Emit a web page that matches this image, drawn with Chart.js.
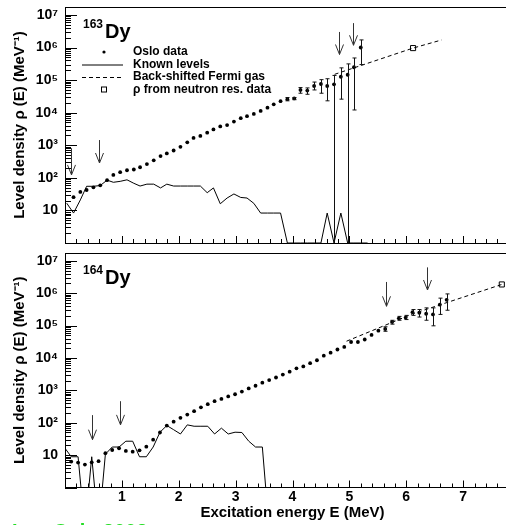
<!DOCTYPE html>
<html>
<head>
<meta charset="utf-8">
<script src="https://cdn.jsdelivr.net/npm/chart.js@4.4.1/dist/chart.umd.min.js"></script>
<style>
  html, body { margin: 0; padding: 0; background: #fff; overflow: hidden; width: 506px; height: 525px; }
  canvas { position: absolute; left: 0; }
  #dy163 { top: 0; }
  #dy164 { top: 248px; }
  .stamp { position: absolute; left: 12px; top: 520px; font: bold 20px "Liberation Sans", Arial, sans-serif; color: #22dd22; white-space: pre; }
</style>
</head>
<body>
<canvas id="dy163" width="530" height="248"></canvas>
<canvas id="dy164" width="530" height="277"></canvas>
<div class="stamp">Lu   Oslo 2003</div>
<script>
// --- 163Dy ---
const dy163Energy = [0.15, 0.27, 0.38, 0.50, 0.62, 0.74, 0.85, 0.97, 1.09, 1.21, 1.32, 1.44, 1.56, 1.68, 1.79,
  1.91, 2.03, 2.15, 2.26, 2.38, 2.50, 2.61, 2.73, 2.85, 2.97, 3.09, 3.20, 3.32, 3.44, 3.56, 3.67, 3.79, 3.91,
  4.03, 4.14, 4.26, 4.38, 4.50, 4.61, 4.73, 4.85, 4.97, 5.08, 5.20];
const dy163Oslo = [25.5, 36.9, 42.4, 51, 59, 85, 123, 149, 171, 180, 211, 265, 344, 464, 560,
  690, 895, 1230, 1680, 1930, 2430, 3060, 3770, 4150, 5340, 6770, 7780, 9140, 11300, 14200, 18000, 22600, 26000,
  27300, 49800, 47700, 65800, 75700, 65800, 74100, 126800, 145800, 247700, 1000000];
const dy163ErrEnergy = [3.91, 4.03, 4.14, 4.26, 4.38, 4.50, 4.61, 4.73, 4.85, 4.97, 5.08, 5.20];
const dy163ErrLow = [23100, 25000, 39500, 36700, 49800, 39500, 23100, 0, 26000, 0, 12100, 299000];
const dy163ErrHigh = [29200, 29200, 58900, 57500, 87000, 103000, 110000, 139000, 237000, 314000, 477000, 1710000];
const dy163LevelEnergy = [0.03, 0.15, 0.27, 0.38, 0.50, 0.62, 0.74, 0.85, 0.97, 1.09, 1.21, 1.32, 1.44, 1.56,
  1.68, 1.79, 1.91, 2.03, 2.15, 2.26, 2.38, 2.50, 2.61, 2.73, 2.85, 2.97, 3.09, 3.20, 3.32, 3.44, 3.56, 3.67,
  3.79, 3.91, 4.03, 4.14, 4.26, 4.38, 4.50, 4.61, 4.73, 4.85, 4.97, 5.08, 5.20, 5.32];
const dy163Levels = [16.7, 8.3, 21, 55, 55, 58, 85, 73, 78, 87, 68, 56, 64, 64,
  49, 64, 56, 56, 56, 56, 56, 35, 49, 16, 24, 32, 25, 24, 16.5, 8.3, 8.3, 8.3,
  8.3, 0, 0, 0, 0, 0, 0, 8.3, 0, 8.3, 0, 0, 0, 0];
const dy163FermiEnergy = [4.74, 6.12, 6.62];
const dy163Fermi = [150000, 960000, 1700000];
const dy163NeutronEnergy = [6.12];
const dy163Neutron = [960000];
// arrows: energy, upper end, lower end (tip)
const dy163Arrows = [[0.11, 811, 123], [0.59, 1446, 285], [4.82, 3.0e6, 6.1e5], [5.06, 5.6e6, 1.17e6]];

// --- 164Dy ---
const dy164Energy = [0.11, 0.23, 0.35, 0.47, 0.59, 0.71, 0.83, 0.95, 1.07, 1.19, 1.31, 1.43, 1.55, 1.67,
  1.79, 1.91, 2.03, 2.15, 2.27, 2.39, 2.51, 2.63, 2.75, 2.87, 2.99, 3.11, 3.23, 3.35, 3.47, 3.59, 3.71, 3.83,
  3.95, 4.07, 4.19, 4.31, 4.43, 4.55, 4.67, 4.79, 4.91, 5.03, 5.15, 5.27, 5.39, 5.51, 5.63, 5.75, 5.87, 5.99,
  6.11, 6.23, 6.35, 6.47, 6.59, 6.71];
const dy164Oslo = [6.3, 5.9, 5.1, 6, 6.5, 11.5, 14.4, 16.3, 13.5, 12.8, 14.1, 18.2, 30, 50,
  82, 108, 142, 179, 227, 299, 376, 463, 543, 650, 760, 920, 1150, 1390, 1730, 2085, 2500, 3080,
  3790, 4800, 5510, 6920, 8530, 11800, 14550, 18300, 22000, 31200, 31200, 37300, 51700, 69700, 78500, 130000, 168000, 177000,
  260000, 250000, 233000, 222000, 444000, 628000];
const dy164ErrEnergy = [5.63, 5.75, 5.87, 5.99, 6.11, 6.23, 6.35, 6.47, 6.59, 6.71];
const dy164ErrLow = [66900, 111000, 146600, 154000, 207000, 184000, 146600, 98600, 222000, 299000];
const dy164ErrHigh = [92000, 146000, 193000, 207000, 314000, 314000, 353000, 353000, 706000, 953000];
const dy164LevelEnergy = [0.00, 0.11, 0.23, 0.35, 0.47, 0.59, 0.71, 0.83, 0.95, 1.07, 1.19, 1.31, 1.43, 1.55,
  1.67, 1.79, 1.91, 2.03, 2.15, 2.27, 2.39, 2.51, 2.63, 2.75, 2.87, 2.99, 3.11, 3.23, 3.35, 3.47, 3.59, 3.71];
const dy164Levels = [16.3, 8.9, 8.9, 0, 8.9, 0, 10.7, 17.8, 17.8, 26.9, 26.9, 8.9, 8.9, 17.8,
  51, 82, 61, 45, 86, 78, 78, 78, 45, 68, 45, 51, 50, 27, 17.8, 17.8, 0, 0];
const dy164FermiEnergy = [4.95, 6.12, 7.68];
const dy164Fermi = [33000, 233000, 1870000];
const dy164NeutronEnergy = [7.68];
const dy164Neutron = [1870000];
const dy164Arrows = [[0.47, 172, 30], [0.96, 463, 86], [5.65, 2.23e6, 3.95e5], [6.37, 6.3e6, 1.26e6]];

// axes
const yTickValues = [10, 100, 1e3, 1e4, 1e5, 1e6, 1e7];
const yTickLabels = ['10', '10\u00b2', '10\u00b3', '10\u2074', '10\u2075', '10\u2076', '10\u2077'];
const xTickValues = [1, 2, 3, 4, 5, 6, 7];
const xTickLabels = ['1', '2', '3', '4', '5', '6', '7'];

const FONT = '"Liberation Sans", Arial, Helvetica, sans-serif';
const Y_MIN = 1;
const Y_MAX = 1.75e7;

function points(xs, ys, zeroAt) {
  return xs.map((x, i) => ({ x, y: ys[i] > 0 ? ys[i] : zeroAt }));
}

function drawArrow(ctx, x, y0, y1) {
  ctx.beginPath();
  ctx.moveTo(x, y0);
  ctx.lineTo(x, y1);
  ctx.moveTo(x - 4, y1 - 10);
  ctx.lineTo(x, y1);
  ctx.lineTo(x + 4, y1 - 10);
  ctx.stroke();
}

function makeOverlay(err, arrows, isotope, withLegend) {
  return {
    id: 'overlay',
    afterDatasetsDraw(chart) {
      const { ctx, chartArea: a, scales: { x, y } } = chart;
      ctx.save();
      ctx.beginPath();
      ctx.rect(a.left, a.top, a.width, a.height);
      ctx.clip();
      ctx.strokeStyle = '#111';
      ctx.lineWidth = 1;
      ctx.beginPath();
      err.energy.forEach((e, i) => {
        const px = Math.round(x.getPixelForValue(e)) + 0.5;
        const lo = err.low[i] > 0 ? y.getPixelForValue(err.low[i]) : a.bottom;
        const hi = y.getPixelForValue(err.high[i]);
        ctx.moveTo(px, lo); ctx.lineTo(px, hi);
        ctx.moveTo(px - 2, hi); ctx.lineTo(px + 2, hi);
        if (err.low[i] > 0) { ctx.moveTo(px - 2, lo); ctx.lineTo(px + 2, lo); }
      });
      ctx.stroke();
      ctx.strokeStyle = '#333';
      arrows.forEach(([e, top, tip]) => {
        drawArrow(ctx, Math.round(x.getPixelForValue(e)) + 0.5, y.getPixelForValue(top), y.getPixelForValue(tip));
      });
      ctx.restore();
    },
    afterDraw(chart) {
      const { ctx, chartArea: a, scales: { x, y } } = chart;
      ctx.save();
      ctx.strokeStyle = '#000';
      ctx.lineWidth = 1;
      ctx.beginPath();
      ctx.moveTo(a.left, a.top + 0.5);
      ctx.lineTo(a.right, a.top + 0.5);
      // log minor ticks, inside the frame
      for (let d = 0; d <= 7; d++) {
        for (let m = 1; m <= 9; m++) {
          const v = m * Math.pow(10, d);
          if (v < y.min || v > y.max) continue;
          const py = Math.round(y.getPixelForValue(v)) + 0.5;
          ctx.moveTo(a.left, py);
          ctx.lineTo(a.left + (m === 1 ? 12 : 6), py);
        }
      }
      for (let i = 0; i <= 40; i++) {
        const px = Math.round(x.getPixelForValue(i / 5)) + 0.5;
        ctx.moveTo(px, a.bottom);
        ctx.lineTo(px, a.bottom - (i % 5 === 0 ? 7 : 4));
      }
      ctx.stroke();

      ctx.fillStyle = '#000';
      ctx.textBaseline = 'alphabetic';
      ctx.font = 'bold 12px ' + FONT;
      ctx.fillText(isotope, a.left + 18, a.top + 21);
      ctx.font = 'bold 20px ' + FONT;
      ctx.fillText('Dy', a.left + 40, a.top + 31);

      if (withLegend) {
        const lx0 = 82, lx1 = 123, tx = 133;
        const rows = [52, 64.5, 77, 89.5];
        ctx.font = 'bold 12px ' + FONT;
        ctx.textBaseline = 'middle';
        ctx.beginPath();
        ctx.arc(104, rows[0], 1.6, 0, Math.PI * 2);
        ctx.fill();
        ctx.fillText('Oslo data', tx, rows[0]);
        ctx.beginPath();
        ctx.moveTo(lx0, rows[1] + 0.5); ctx.lineTo(lx1, rows[1] + 0.5);
        ctx.stroke();
        ctx.fillText('Known levels', tx, rows[1]);
        ctx.beginPath();
        ctx.setLineDash([4, 3]);
        ctx.moveTo(lx0, rows[2] + 0.5); ctx.lineTo(lx1, rows[2] + 0.5);
        ctx.stroke();
        ctx.setLineDash([]);
        ctx.fillText('Back-shifted Fermi gas', tx, rows[2]);
        ctx.strokeRect(101.5, rows[3] - 2.5, 5, 5);
        ctx.fillText('\u03c1 from neutron res. data', tx, rows[3]);
      }
      ctx.restore();
    }
  };
}

function makeDatasets(d) {
  return [
    { data: points(d.levelE, d.levels, d.zeroAt), borderColor: '#000', borderWidth: 1, pointRadius: 0, tension: 0 },
    { data: points(d.fermiE, d.fermi), borderColor: '#000', borderWidth: 1, borderDash: [4, 3], pointRadius: 0 },
    { data: points(d.energy, d.oslo), showLine: false, pointRadius: 1.9, pointBackgroundColor: '#000', pointBorderWidth: 0 },
    { data: points(d.neutronE, d.neutron), showLine: false, pointStyle: 'rect', pointRadius: 3.6,
      pointBackgroundColor: '#fff', pointBorderColor: '#000', pointBorderWidth: 1 }
  ];
}

function makeChart(id, d, showX, padTop, xHeight) {
  const tickFont = { family: FONT, size: 14, weight: 'bold' };
  const titleFont = { family: FONT, size: 15, weight: 'bold' };
  return new Chart(document.getElementById(id), {
    type: 'line',
    data: { datasets: makeDatasets(d) },
    options: {
      responsive: false,
      animation: false,
      devicePixelRatio: 1,
      layout: { padding: { top: padTop, right: 10, left: 0, bottom: 0 } },
      plugins: { legend: { display: false }, tooltip: { enabled: false } },
      scales: {
        x: {
          type: 'linear', min: 0, max: 8,
          grid: { display: false, drawTicks: false },
          border: { display: true, color: '#000', width: 1 },
          afterBuildTicks: s => { s.ticks = xTickValues.map(v => ({ value: v })); },
          ticks: { display: showX, color: '#000', font: tickFont, padding: 1, autoSkip: false, maxRotation: 0,
            callback: (v, i) => xTickLabels[i] },
          title: { display: showX, text: 'Excitation energy E (MeV)', color: '#000', font: titleFont,
            padding: { top: 0, bottom: 3 } },
          afterFit: s => { s.height = xHeight; s.paddingLeft = 0; s.paddingRight = 0; }
        },
        y: {
          type: 'logarithmic', min: Y_MIN, max: Y_MAX,
          grid: { display: false, drawTicks: false },
          border: { display: true, color: '#000', width: 1 },
          afterBuildTicks: s => { s.ticks = yTickValues.map(v => ({ value: v })); },
          ticks: { color: '#000', font: tickFont, padding: 7, autoSkip: false, callback: (v, i) => yTickLabels[i] },
          title: { display: true, text: 'Level density \u03c1 (E) (MeV\u207b\u00b9)', color: '#000', font: titleFont,
            padding: { top: 11, bottom: 0 } },
          afterFit: s => { s.width = 65; s.paddingTop = 0; s.paddingBottom = 0; }
        }
      }
    },
    plugins: [makeOverlay(d.err, d.arrows, d.isotope, d.legend)]
  });
}

makeChart('dy163', {
  energy: dy163Energy, oslo: dy163Oslo,
  levelE: dy163LevelEnergy, levels: dy163Levels, zeroAt: Y_MIN,
  fermiE: dy163FermiEnergy, fermi: dy163Fermi,
  neutronE: dy163NeutronEnergy, neutron: dy163Neutron,
  err: { energy: dy163ErrEnergy, low: dy163ErrLow, high: dy163ErrHigh },
  arrows: dy163Arrows, isotope: '163', legend: true
}, false, 7, 2);

makeChart('dy164', {
  energy: dy164Energy, oslo: dy164Oslo,
  levelE: dy164LevelEnergy, levels: dy164Levels, zeroAt: 0.05,
  fermiE: dy164FermiEnergy, fermi: dy164Fermi,
  neutronE: dy164NeutronEnergy, neutron: dy164Neutron,
  err: { energy: dy164ErrEnergy, low: dy164ErrLow, high: dy164ErrHigh },
  arrows: dy164Arrows, isotope: '164', legend: false
}, true, 1, 37.5);
</script>
</body>
</html>
